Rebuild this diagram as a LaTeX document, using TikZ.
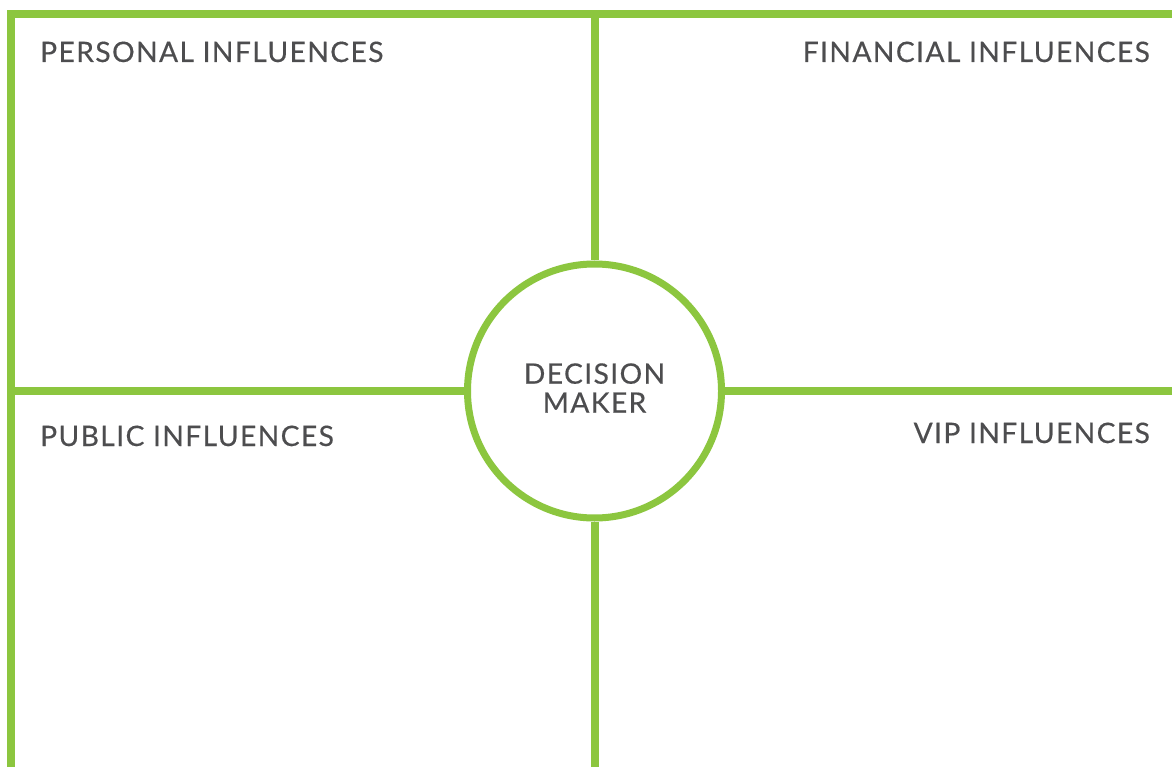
\documentclass[tikz,border=0pt]{standalone}
\usepackage{fontspec}
\setmainfont{Lato}[LetterSpace=5, FakeBold=0.4]
\definecolor{grn}{HTML}{8CC63F}
\definecolor{txt}{HTML}{4D4D4F}
\begin{document}
\begin{tikzpicture}[x=1pt,y=-1pt,
  gline/.style={draw=grn, line width=8pt},
  lbl/.style={text=txt, font=\fontsize{28.2}{29}\selectfont, inner sep=0pt}]
\useasboundingbox (0,0) rectangle (1172,767);
\fill[white] (0,0) rectangle (1172,767);
\coordinate (tl) at (11,14);
\coordinate (tr) at (1180,14);
\coordinate (bl) at (11,775);
\coordinate (ml) at (11,391);
\coordinate (mr) at (1180,391);
\coordinate (tc) at (594.5,14);
\coordinate (bc) at (594.5,775);
\node[circle, draw=grn, line width=7pt, minimum size=254pt, inner sep=0pt] (dm) at (594.5,391) {};
\draw[gline, line join=miter] (bl) -- (tl) -- (tr);
\draw[gline] (tc) -- (dm.north);
\draw[gline] (dm.south) -- (bc);
\draw[gline] (ml) -- (dm.west);
\draw[gline] (dm.east) -- (mr);
\node[lbl, anchor=base west] (pers) at (40,62) {PERSONAL INFLUENCES};
\node[lbl, anchor=base east] (fin) at (1150,62) {FINANCIAL INFLUENCES};
\node[lbl, anchor=base west] (pub) at (40,446) {PUBLIC INFLUENCES};
\node[lbl, anchor=base east] (vip) at (1150,443) {VIP INFLUENCES};
\node[lbl, align=center] (dmt) at ([yshift=3pt]dm.center) {DECISION\\MAKER};
\end{tikzpicture}
\end{document}
